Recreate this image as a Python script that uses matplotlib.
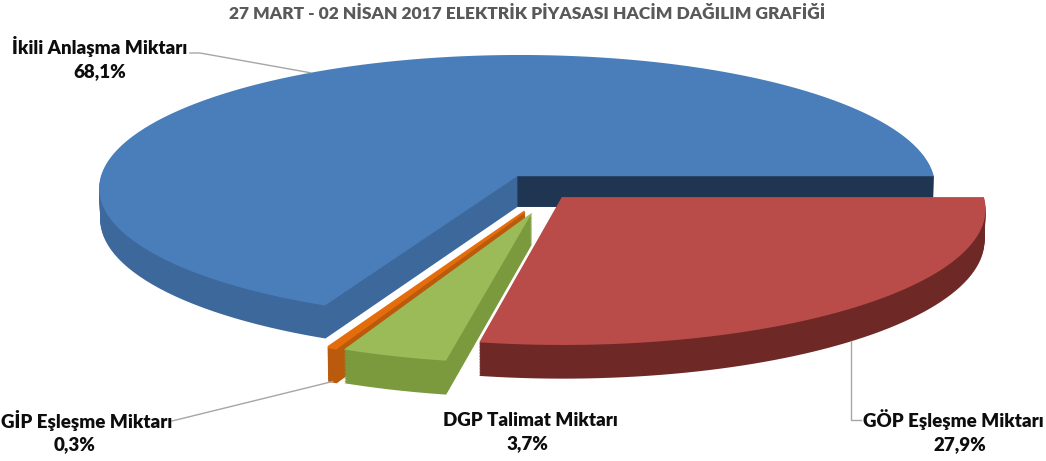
import numpy as np
import matplotlib.pyplot as plt
from matplotlib.path import Path
from matplotlib.transforms import Transform, Affine2D
from matplotlib.patches import Polygon

labels = ["İkili Anlaşma Miktarı", "GİP Eşleşme Miktarı", "DGP Talimat Miktarı", "GÖP Eşleşme Miktarı"]
shares = [68.1, 0.3, 3.7, 27.9]
top_colors = ["#4a7ebb", "#e46c0a", "#9bbb59", "#b94c49"]
side_colors = ["#3d689c", "#b95a0c", "#7b9a3e", "#6e2927"]
explode = [0.15, 0.15, 0.15, 0.04]
title = "27 MART - 02 NİSAN 2017 ELEKTRİK PİYASASI HACİM DAĞILIM GRAFİĞİ"

plt.rcParams['font.family'] = ['Lato', 'DejaVu Sans']

W, H = 1046, 461
ELEV = np.radians(19)
DIST = 11.0
FOC = 4620
CX, CY = 551, H - 224
THICK = 0.078


def project(x, y, z):
    depth = DIST + y * np.cos(ELEV) - z * np.sin(ELEV)
    up = y * np.sin(ELEV) + z * np.cos(ELEV)
    return CX + FOC * x / depth, CY + FOC * up / depth


class Tilt(Transform):
    # flat pie (unit circle) -> perspective view at height z, in pixels
    input_dims = output_dims = 2

    def __init__(self, z):
        super().__init__()
        self.z = z

    def transform_non_affine(self, values):
        v = np.asarray(values, float)
        px, py = project(v[:, 0], v[:, 1], self.z)
        return np.column_stack([px, py])

    def transform_path_non_affine(self, path):
        polys = path.to_polygons(transform=Affine2D().scale(1000), closed_only=True)
        verts = np.vstack(polys) / 1000.0
        return Path(self.transform_non_affine(verts), closed=True)


fig = plt.figure(figsize=(W / 100, H / 100), dpi=100)
ax = fig.add_axes([0, 0, 1, 1])

frac = np.array(shares) / np.sum(shares)
edges = np.concatenate([[0], np.cumsum(frac) * 360])
mids = np.radians((edges[:-1] + edges[1:]) / 2)
shift = [(e * np.cos(m), e * np.sin(m)) for e, m in zip(explode, mids)]


def draw_layer(z, colors):
    wedges, _ = ax.pie(shares, explode=explode, colors=colors, startangle=0,
                       counterclock=True, wedgeprops=dict(linewidth=0))
    for w in wedges:
        w.set_transform(Tilt(z) + ax.transData)
    # the tiny slice gets an outline so it stays visible
    wedges[1].set_edgecolor(colors[1])
    wedges[1].set_linewidth(1.6)


for z in np.linspace(0, THICK, 24)[:-1]:
    draw_layer(z, side_colors)

# dark inner face of the big slice along its first edge
sx, sy = shift[0]
face = [project(sx, sy, 0), project(sx + 1, sy, 0), project(sx + 1, sy, THICK), project(sx, sy, THICK)]
ax.add_patch(Polygon(face, closed=True, facecolor="#1f3552", edgecolor="none"))

draw_layer(THICK, top_colors)

ax.set_xlim(0, W)
ax.set_ylim(0, H)
ax.set_aspect('auto')
ax.axis('off')

pct = [f"{v:.1f}%".replace('.', ',') for v in shares]
lab_kw = dict(fontsize=13.5, fontweight='heavy', color='#0d0d0d', ha='center', va='center')
line_kw = dict(color='#a6a6a6', lw=1)

# İkili Anlaşma
ax.text(100, H - 47, labels[0], **lab_kw)
ax.text(100, H - 72, pct[0], **lab_kw)
ax_, ay_ = project(shift[0][0] + np.cos(mids[0]), shift[0][1] + np.sin(mids[0]), THICK)
ax.plot([190, 200, ax_], [H - 53, H - 53, ay_], **line_kw)

# GİP Eşleşme
ax.text(1, H - 420, labels[1], **dict(lab_kw, ha='left'))
ax.text(75, H - 445, pct[1], **lab_kw)
gx, gy = project(shift[1][0] + np.cos(mids[1]), shift[1][1] + np.sin(mids[1]), 0)
ax.plot([172, gx], [H - 421, gy], **line_kw)

# DGP Talimat
ax.text(530, H - 420, labels[2], **lab_kw)
ax.text(527, H - 444, pct[2], **lab_kw)

# GÖP Eşleşme
ax.text(953, H - 420, labels[3], **lab_kw)
ax.text(960, H - 445, pct[3], **lab_kw)
rx, ry = project(shift[3][0] + np.cos(mids[3]), shift[3][1] + np.sin(mids[3]), 0)
ax.plot([rx, rx, 861], [ry, H - 420, H - 420], **line_kw)

ax.text(527, H - 14, title, fontsize=12.5, fontweight='heavy', color='#595959',
        ha='center', va='center')

fig.savefig("out.png", dpi=100)
